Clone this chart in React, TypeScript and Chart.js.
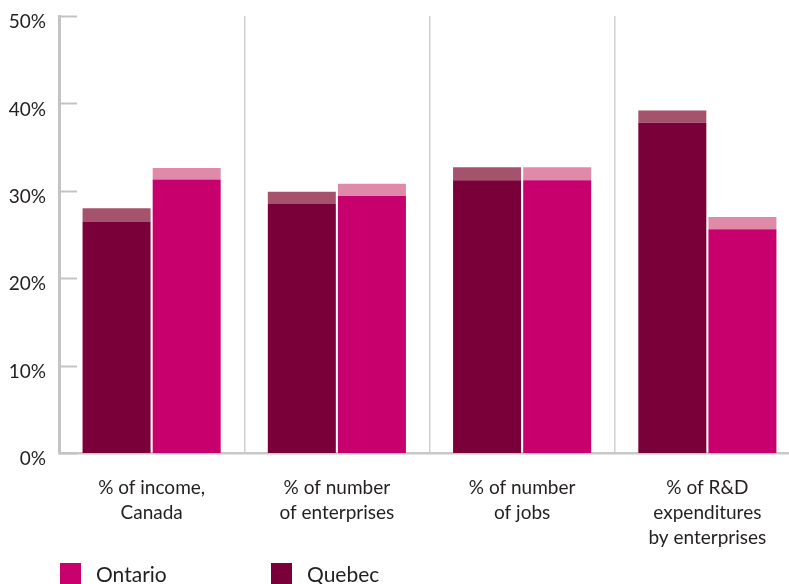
import React, { useEffect, useRef } from "react";
import { Chart, registerables } from "chart.js";

Chart.register(...registerables);

const categories: string[][] = [
  ["% of income,", "Canada"],
  ["% of number", "of enterprises"],
  ["% of number", "of jobs"],
  ["% of R&D", "expenditures", "by enterprises"],
];
const quebecLow = [26.5, 28.5, 31.2, 37.8];
const quebecHigh = [28.0, 29.9, 32.7, 39.2];
const ontarioLow = [31.3, 29.4, 31.2, 25.6];
const ontarioHigh = [32.6, 30.8, 32.7, 27.0];
const yTicks = [0, 10, 20, 30, 40, 50];

const QUEBEC = "#7a0039";
const QUEBEC_CAP = "#a5536c";
const ONTARIO = "#c8006e";
const ONTARIO_CAP = "#e08aa9";
const FONT = "Lato, 'Open Sans', sans-serif";
const TEXT = "#231f20";

const legendItems = [
  { label: "Ontario", color: ONTARIO },
  { label: "Quebec", color: QUEBEC },
];

const innerTicks = {
  id: "innerTicks",
  afterDatasetsDraw(chart: any) {
    const { ctx, chartArea, scales } = chart;
    const y = scales.y;
    ctx.save();
    ctx.strokeStyle = "#c4c4c4";
    ctx.lineWidth = 2;
    yTicks.forEach((v) => {
      const py = Math.round(y.getPixelForValue(v)) + 0.5;
      ctx.beginPath();
      ctx.moveTo(chartArea.left, py);
      ctx.lineTo(chartArea.left + 18, py);
      ctx.stroke();
    });
    ctx.restore();
  },
};

const customLegend = {
  id: "customLegend",
  afterDraw(chart: any) {
    const { ctx, chartArea } = chart;
    ctx.save();
    ctx.font = `21px ${FONT}`;
    ctx.textBaseline = "alphabetic";
    legendItems.forEach((item, i) => {
      const x = chartArea.left + 1 + i * 211;
      const top = 563;
      ctx.fillStyle = item.color;
      ctx.fillRect(x, top, 21, 22);
      ctx.fillStyle = TEXT;
      ctx.fillText(item.label, x + 36, 582);
    });
    ctx.restore();
  },
};

export default function App() {
  const ref = useRef<HTMLCanvasElement | null>(null);

  useEffect(() => {
    if (!ref.current) return;
    const common = { barPercentage: 0.97, categoryPercentage: 0.757 };
    const chart = new Chart(ref.current, {
      type: "bar",
      data: {
        labels: categories,
        datasets: [
          { label: "Quebec", data: quebecLow, backgroundColor: QUEBEC, stack: "q", ...common },
          {
            label: "Quebec range",
            data: quebecHigh.map((h, i) => +(h - quebecLow[i]).toFixed(2)),
            backgroundColor: QUEBEC_CAP,
            stack: "q",
            ...common,
          },
          { label: "Ontario", data: ontarioLow, backgroundColor: ONTARIO, stack: "o", ...common },
          {
            label: "Ontario range",
            data: ontarioHigh.map((h, i) => +(h - ontarioLow[i]).toFixed(2)),
            backgroundColor: ONTARIO_CAP,
            stack: "o",
            ...common,
          },
        ],
      },
      options: {
        animation: false,
        responsive: false,
        maintainAspectRatio: false,
        layout: { padding: { top: 16, right: 2, left: 0, bottom: 0 } },
        plugins: {
          legend: { display: false },
          tooltip: { enabled: false },
        },
        scales: {
          x: {
            stacked: true,
            grid: {
              offset: true,
              color: "#cfcfcf",
              lineWidth: 1.5,
              drawTicks: false,
            },
            border: { color: "#c8c8c8", width: 2.5 },
            ticks: {
              color: TEXT,
              font: { family: FONT, size: 19, lineHeight: 1.32 },
              padding: 22,
              maxRotation: 0,
              autoSkip: false,
            },
            afterFit: (scale: any) => {
              scale.height = 131;
              scale.paddingLeft = 0;
              scale.paddingRight = 0;
            },
          },
          y: {
            stacked: true,
            min: 0,
            max: 50,
            ticks: {
              stepSize: 10,
              color: TEXT,
              font: { family: FONT, size: 19 },
              padding: 13,
              labelOffset: 6,
              callback: (v: any) => `${v}%`,
            },
            grid: { display: false, drawTicks: false },
            border: { color: "#c4c4c4", width: 3 },
            afterFit: (scale: any) => {
              scale.width = 59;
              scale.paddingTop = 0;
              scale.paddingBottom = 0;
            },
          },
        },
      },
      plugins: [innerTicks, customLegend],
    });
    return () => chart.destroy();
  }, []);

  return (
    <div
      style={{
        position: "absolute",
        left: 0,
        top: 0,
        width: 789,
        height: 584,
        overflow: "hidden",
        background: "#fff",
      }}
    >
      <canvas ref={ref} width={802} height={584} style={{ display: "block", width: 802, height: 584 }} />
    </div>
  );
}
